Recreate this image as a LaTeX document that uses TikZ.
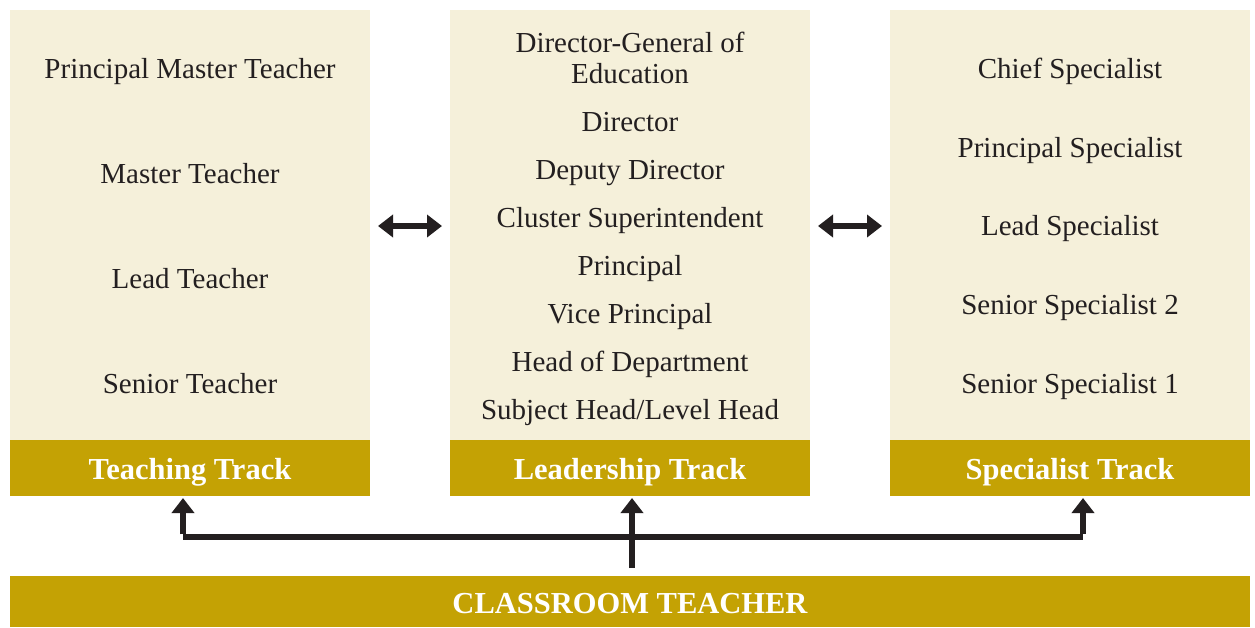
\documentclass[tikz,border=0pt]{standalone}
\usepackage{fontspec}
\setmainfont{Liberation Serif}
\usetikzlibrary{arrows.meta}
\definecolor{cream}{HTML}{F5F0DA}
\definecolor{gold}{HTML}{C4A204}
\definecolor{ink}{HTML}{231F20}
\tikzset{
  panel/.style={fill=cream, draw=none},
  header/.style={fill=gold, draw=none},
  item/.style={text=ink, font=\fontsize{29}{31}\selectfont, align=center, inner sep=0pt, anchor=base},
  htext/.style={text=white, font=\bfseries\fontsize{30.5}{34}\selectfont, inner sep=0pt, anchor=base},
  conn/.style={draw=ink, line width=5.5pt},
  tip/.style={-{Triangle[width=22pt,length=15pt]}},
  dtip/.style={{Triangle[width=22pt,length=15pt]}-{Triangle[width=22pt,length=15pt]}}
}
\begin{document}
\begin{tikzpicture}[x=1pt,y=-1pt]
\useasboundingbox (0,0) rectangle (1255,627);
\fill[white] (0,0) rectangle (1255,627);
% panels
\path[panel] (10,10) rectangle (370,440);
\path[panel] (450,10) rectangle (810,440);
\path[panel] (890,10) rectangle (1250,440);
\path[header] (10,440) rectangle (370,496);
\path[header] (450,440) rectangle (810,496);
\path[header] (890,440) rectangle (1250,496);
\path[header] (10,576) rectangle (1250,627);
% header texts
\node[htext] (ht) at (190,479) {Teaching Track};
\node[htext] (hl) at (630,479) {Leadership Track};
\node[htext] (hs) at (1070,479) {Specialist Track};
\node[htext] (ct) at (630,613) {CLASSROOM TEACHER};
% teaching
\node[item] (t1) at (190,78) {Principal Master Teacher};
\node[item] (t2) at (190,183) {Master Teacher};
\node[item] (t3) at (190,288) {Lead Teacher};
\node[item] (t4) at (190,393) {Senior Teacher};
% leadership
\node[item] (l0) at (630,83) {Director-General of\\Education};
\node[item] (l1) at (630,131) {Director};
\node[item] (l2) at (630,179) {Deputy Director};
\node[item] (l3) at (630,227) {Cluster Superintendent};
\node[item] (l4) at (630,275) {Principal};
\node[item] (l5) at (630,323) {Vice Principal};
\node[item] (l6) at (630,371) {Head of Department};
\node[item] (l7) at (630,419) {Subject Head/Level Head};
% specialist
\node[item] (s1) at (1070,78) {Chief Specialist};
\node[item] (s2) at (1070,157) {Principal Specialist};
\node[item] (s3) at (1070,235) {Lead Specialist};
\node[item] (s4) at (1070,314) {Senior Specialist 2};
\node[item] (s5) at (1070,393) {Senior Specialist 1};
% coordinates
\coordinate (a1) at (378,226);
\coordinate (a2) at (442,226);
\coordinate (b1) at (818,226);
\coordinate (b2) at (882,226);
\coordinate (src) at (632,568);
\coordinate (tl) at (183,498);
\coordinate (tm) at (632,498);
\coordinate (tr) at (1083,498);
\coordinate (cl) at (183,537);
\coordinate (cr) at (1083,537);
% arrows
\draw[conn,dtip] (a1) -- (a2);
\draw[conn,dtip] (b1) -- (b2);
\draw[conn] (cl) -- (cr);
\draw[conn,tip] (src) -- (tm);
\draw[conn,tip] ([yshift=2.75pt]cl) -- (tl);
\draw[conn,tip] ([yshift=2.75pt]cr) -- (tr);
\end{tikzpicture}
\end{document}
